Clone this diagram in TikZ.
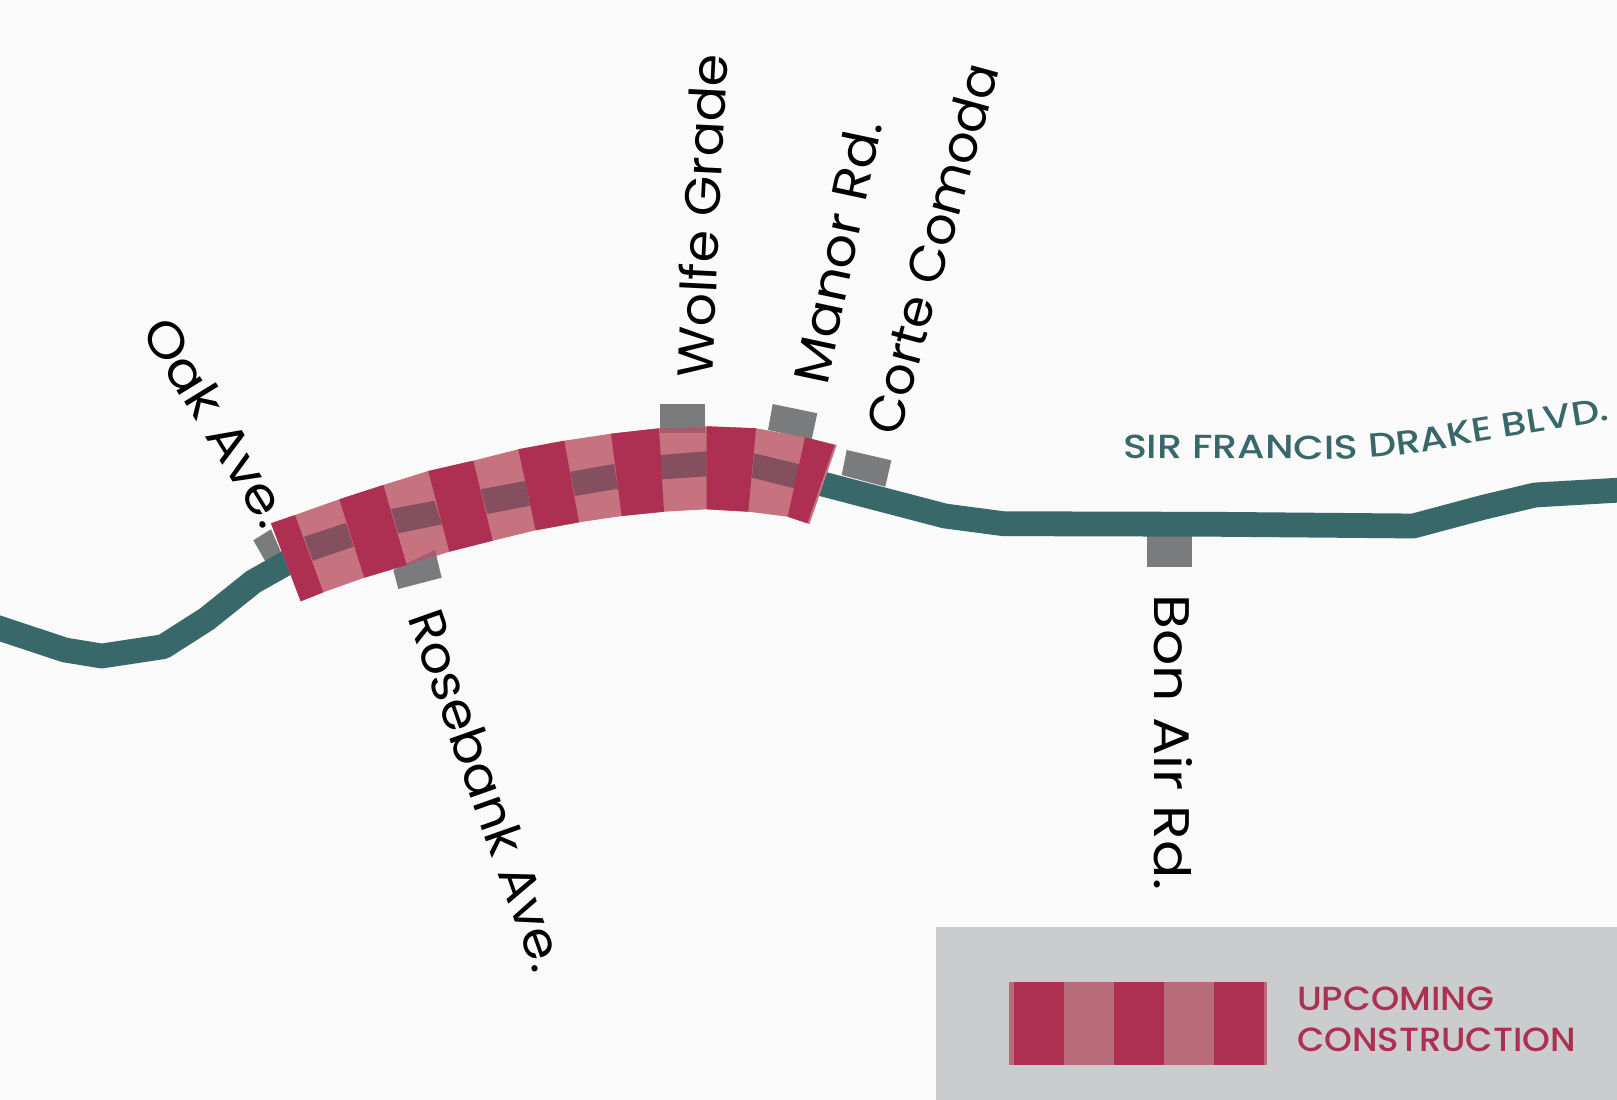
\documentclass[tikz,border=0pt]{standalone}
\usepackage{fontspec}
\setmainfont{Poppins}
\newfontfamily\medfont{Poppins Medium}
\newfontfamily\roadfont[FakeStretch=1.18]{Poppins Medium}
\usetikzlibrary{decorations.text}
\definecolor{bgc}{HTML}{FAFAFA}
\definecolor{teal}{HTML}{38686A}
\definecolor{crim}{HTML}{AD3052}
\definecolor{crimlight}{HTML}{C6727F}
\definecolor{strip}{HTML}{845060}
\definecolor{grayb}{HTML}{797B7C}
\definecolor{overlapc}{HTML}{A55C70}
\definecolor{panel}{HTML}{CBCCCE}
\definecolor{leglight}{HTML}{B86B78}
\newcommand{\bandshape}{(271,523.3) -- (295,515) -- (339.3,499.3) -- (383.3,485) -- (428.3,471) -- (473.3,460.7) -- (518.3,449.3) -- (564.3,440.7) -- (611,433.7) -- (659,428.3) -- (706.7,426.3) -- (756,428.3) -- (805,437.3) -- (836.7,445)
 -- (809.5,524) -- (787.7,516.7) -- (748.3,511.7) -- (706.7,509.3) -- (664,511.7) -- (621.7,516) -- (579,522.3) -- (535.7,530.3) -- (492.7,540.7) -- (449.3,551.7) -- (406.7,565) -- (364.3,577.7) -- (323.3,592.3) -- (300.7,601.3) -- cycle}
\newcommand{\stubrose}{(393.3,570) -- (435,550) -- (441.7,577.7) -- (398.3,589) -- cycle}
\newcommand{\stubwolfe}{(660,404) rectangle (705,433.3)}
\newcommand{\stubmanor}{(772.7,404) -- (817.3,413.3) -- (811.7,439.3) -- (768,430) -- cycle}
\newcommand{\wide}[2]{\scalebox{#1}[1]{#2}}
\tikzset{
  road/.style={draw=teal,line width=24.8pt,line join=round},
  stub/.style={fill=grayb},
  lightband/.style={fill=crimlight},
  midstrip/.style={fill=strip},
  darkseg/.style={fill=crim},
  streetlabel/.style={anchor=base west,inner sep=0pt,outer sep=0pt,font=\fontsize{50}{50}\selectfont,text=black},
  legendtext/.style={anchor=base west,inner sep=0pt,outer sep=0pt,font=\medfont\fontsize{33.5}{33.5}\selectfont,text=crim}
}
\begin{document}
\begin{tikzpicture}[x=1pt,y=-1pt]
\useasboundingbox (0,0) rectangle (1617,1100);
\fill[bgc] (0,0) rectangle (1617,1100);
% stubs
\fill[stub] (253.3,540.3) -- (271,529.3) -- (283,556.7) -- (267.3,564.7) -- cycle;
\fill[stub] \stubrose;
\fill[stub] \stubwolfe;
\fill[stub] \stubmanor;
\fill[stub] (846.7,450) -- (891.3,460.3) -- (885.3,486.7) -- (841.7,475) -- cycle;
\fill[stub] (1146.7,530) rectangle (1192,566.7);
% road
\draw[road] (-15,623.5) -- (65,650) -- (101.7,656) -- (163.3,646.7) -- (206.7,619) -- (253.3,581.7) -- (290,561);
\draw[road] (815,482) -- (945,516) -- (1003.3,523.7) -- (1216.7,524.3) -- (1413.3,526) -- (1483.3,507.3) -- (1535,495) -- (1630,489.5);
% band
\fill[lightband] \bandshape;
\begin{scope}
\clip \bandshape;
\fill[overlapc] \stubrose;
\fill[overlapc] \stubwolfe;
\fill[overlapc] \stubmanor;
\end{scope}
% centre strip
\fill[midstrip] (304,536.7) -- (346,523) -- (353.7,546.7) -- (312.7,560.7) -- cycle;
\fill[midstrip] (391,509) -- (434.3,500.7) -- (442,524.3) -- (398.3,533.3) -- cycle;
\fill[midstrip] (480.7,489.3) -- (525,481) -- (530,505.7) -- (487.3,514) -- cycle;
\fill[midstrip] (570.3,471.7) -- (614,464) -- (618,488.7) -- (575,496) -- cycle;
\fill[midstrip] (660,455) -- (706.7,451.3) -- (706.7,476.3) -- (662.3,479.3) -- cycle;
\fill[midstrip] (754,453.3) -- (800,464.3) -- (794,488.3) -- (752,477.7) -- cycle;
% dark segments
\fill[darkseg] (271,523.3) -- (295,515) -- (323.3,592.3) -- (300.7,601.3) -- cycle;
\fill[darkseg] (339.3,499.3) -- (383.3,485) -- (406.7,565) -- (364.3,577.7) -- cycle;
\fill[darkseg] (428.3,471) -- (473.3,460.7) -- (492.7,540.7) -- (449.3,551.7) -- cycle;
\fill[darkseg] (518.3,449.3) -- (564.3,440.7) -- (579,522.3) -- (535.7,530.3) -- cycle;
\fill[darkseg] (611,433.7) -- (659,428.3) -- (664,511.7) -- (621.7,516) -- cycle;
\fill[darkseg] (706.7,426.3) -- (756,428.3) -- (748.3,511.7) -- (706.7,509.3) -- cycle;
\fill[darkseg] (805,437.3) -- (834.5,445) -- (807.3,523.3) -- (787.7,516.7) -- cycle;
% street labels
\node[streetlabel,rotate=87.2] (wolfe) at (712,378) {\wide{1.042}{Wolfe Grade}};
\node[streetlabel,rotate=78] (manor) at (827,386) {\wide{1.08}{Manor Rd.}};
\node[streetlabel,rotate=74.7] (corte) at (899,437) {\wide{1.02}{Corte Comoda}};
\node[streetlabel,rotate=-58.4] (oak) at (140.5,331) {\wide{1.09}{Oak Ave.}};
\node[streetlabel,rotate=-70.5] (rose) at (407,617) {\wide{1.05}{Rosebank Ave.}};
\node[streetlabel,rotate=-90] (bon) at (1154,594.5) {\wide{1.135}{Bon Air Rd.}};
% road name
\path[decorate,decoration={text along path,text align=left,text color=teal,
  text={|\roadfont\fontsize{33.5}{33.5}\selectfont|SIR FRANCIS DRAKE BLVD.}}]
  (1123,458) -- (1300,459) .. controls (1370,460) and (1420,455) .. (1480,441) -- (1612,420);
% legend
\fill[panel] (936,927.3) rectangle (1617,1100);
\fill[leglight] (1009.3,982) rectangle (1267.4,1065);
\fill[crim] (1013.7,982) rectangle (1064,1065);
\fill[crim] (1114,982) rectangle (1164,1065);
\fill[crim] (1214,982) rectangle (1264,1065);
\node[legendtext] (up) at (1297,1010.5) {\wide{1.075}{UPCOMING}};
\node[legendtext] (con) at (1297,1051) {\wide{1.057}{CONSTRUCTION}};
\end{tikzpicture}
\end{document}
